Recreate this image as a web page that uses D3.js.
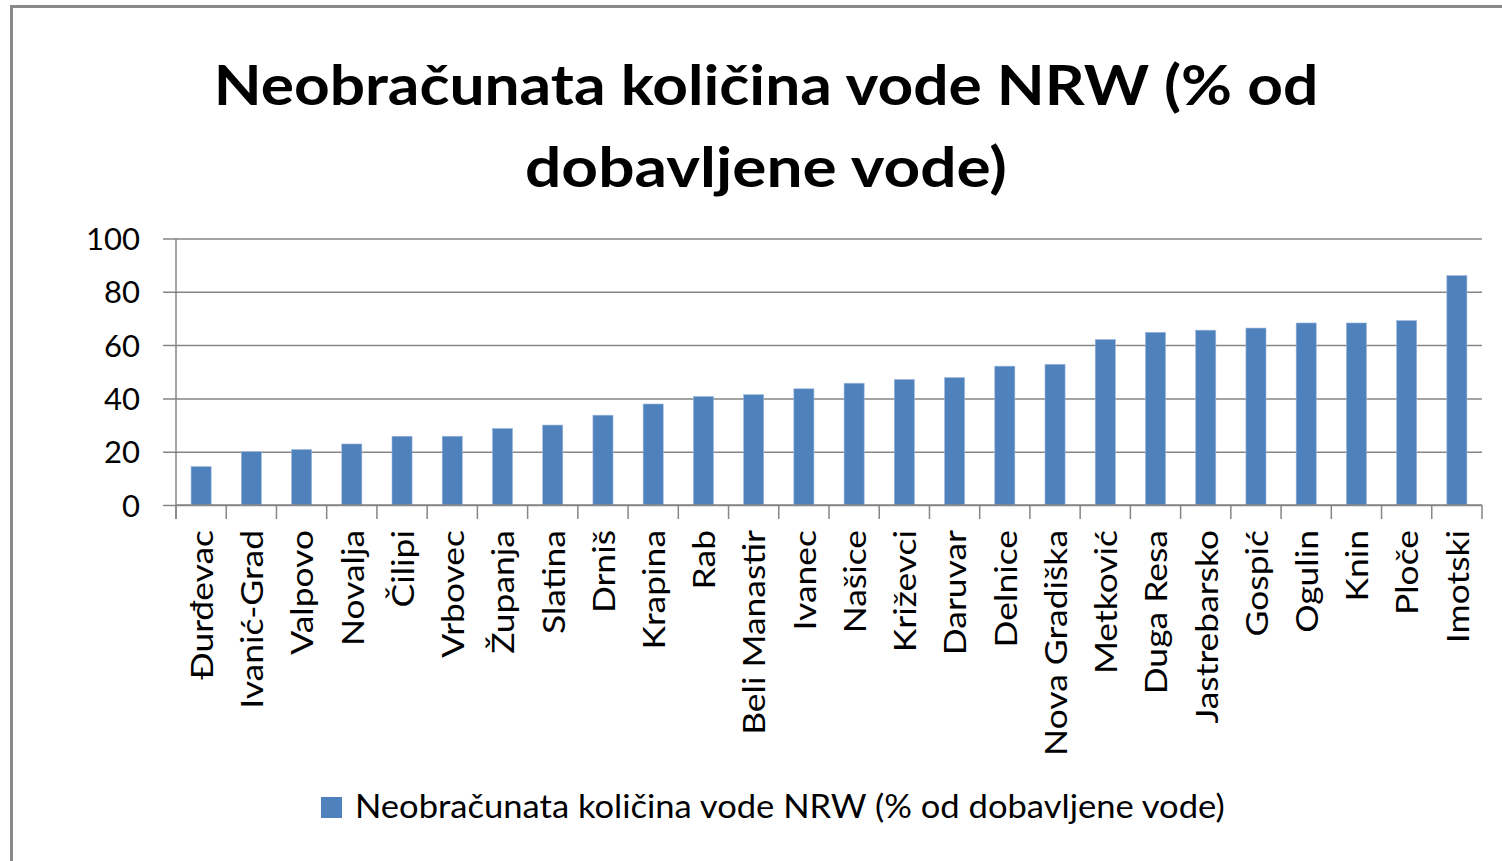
<!DOCTYPE html>
<html>
<head>
<meta charset="utf-8">
<script src="https://cdn.jsdelivr.net/npm/d3@7"></script>
<style>
  html, body { margin: 0; padding: 0; background: #fff; }
  svg { display: block; }
  text { font-family: Lato, "Open Sans", sans-serif; fill: #000; }
</style>
</head>
<body>
<script>
// ---- data ----
const categories = ["Đurđevac","Ivanić-Grad","Valpovo","Novalja","Čilipi","Vrbovec","Županja","Slatina","Drniš","Krapina","Rab","Beli Manastir","Ivanec","Našice","Križevci","Daruvar","Delnice","Nova Gradiška","Metković","Duga Resa","Jastrebarsko","Gospić","Ogulin","Knin","Ploče","Imotski"];
const values = [14.4, 20.0, 20.8, 22.9, 25.8, 25.8, 28.7, 30.0, 33.7, 37.9, 40.7, 41.4, 43.6, 45.7, 47.1, 47.8, 52.1, 52.8, 62.1, 64.8, 65.6, 66.4, 68.3, 68.3, 69.2, 86.1];
const yTicks = [0, 20, 40, 60, 80, 100];
const titleLines = ["Neobračunata količina vode NRW (% od", "dobavljene vode)"];
const legendLabel = "Neobračunata količina vode NRW (% od dobavljene vode)";

// ---- layout ----
const W = 1502, H = 861;
const plotLeft = 176, plotRight = 1482, plotTop = 238.5, plotBottom = 505;
const barColor = "#4F81BD", gridColor = "#868686";

const svg = d3.select("body").append("svg").attr("width", W).attr("height", H);

// outer frame
svg.append("rect").attr("x", 11.5).attr("y", 6.5).attr("width", W + 20).attr("height", H + 20)
  .attr("fill", "#fff").attr("stroke", "#8a8a8a").attr("stroke-width", 3);

function fitX(sel, target) {
  const node = sel.node();
  const len = node.getComputedTextLength();
  const k = target / len;
  const x = +sel.attr("x"), y = +sel.attr("y");
  sel.attr("transform", `translate(${x},${y}) scale(${k},1) translate(${-x},${-y})`);
}

// title
const titleTargets = [1105, 482];
const titleY = [105, 187];
titleLines.forEach((t, i) => {
  const tx = svg.append("text").attr("x", 766).attr("y", titleY[i])
    .attr("text-anchor", "middle").attr("font-weight", "bold").attr("font-size", 56).text(t);
  fitX(tx, titleTargets[i]);
});

// scales
const x = d3.scaleBand().domain(categories).range([plotLeft, plotRight]).paddingInner(0.6).paddingOuter(0.3);
const y = d3.scaleLinear().domain([0, 100]).range([plotBottom, plotTop]);

// y axis with gridlines
const yAxis = d3.axisLeft(y).tickValues(yTicks).tickSize(-(plotRight - 163)).tickPadding(23);
const gy = svg.append("g").attr("transform", "translate(163,0)").call(yAxis);
gy.select(".domain").remove();
gy.selectAll(".tick line").attr("stroke", gridColor).attr("stroke-width", 1.5);
gy.selectAll(".tick text").attr("font-size", 31).attr("fill", "#000")
  .style("font-family", "Lato, 'Open Sans', sans-serif").attr("dy", "0.36em");

// bars
svg.append("g").selectAll("rect").data(categories).join("rect")
  .attr("x", d => x(d))
  .attr("width", x.bandwidth())
  .attr("y", (d, i) => y(values[i]))
  .attr("height", (d, i) => y(0) - y(values[i]))
  .attr("fill", barColor)
  .attr("stroke", "#9db8dc").attr("stroke-width", 0.6);

// vertical axis line
svg.append("line").attr("x1", plotLeft).attr("x2", plotLeft).attr("y1", plotTop).attr("y2", 519)
  .attr("stroke", gridColor).attr("stroke-width", 1.5);
// category axis line at 0
svg.append("line").attr("x1", plotLeft).attr("x2", plotRight).attr("y1", y(0)).attr("y2", y(0))
  .attr("stroke", gridColor).attr("stroke-width", 1.5);
// category boundary ticks
const step = x.step();
const bounds = categories.map((c, i) => plotLeft + i * step).concat([plotRight]);
svg.append("g").selectAll("line").data(bounds).join("line")
  .attr("x1", d => d).attr("x2", d => d).attr("y1", y(0)).attr("y2", 519)
  .attr("stroke", gridColor).attr("stroke-width", 1.5);

// category labels (rotated)
const labG = svg.append("g");
const labs = labG.selectAll("text").data(categories).join("text")
  .attr("font-size", 30)
  .attr("text-anchor", "end")
  .attr("transform", d => `translate(${x(d) + x.bandwidth() / 2 + 1},530) rotate(-90)`)
  .attr("dy", "0.36em")
  .text(d => d);
const refLen = labs.filter(d => d === "Nova Gradiška").node().getComputedTextLength();
const kLab = 226 / refLen;
labs.attr("transform", d => `translate(${x(d) + x.bandwidth() / 2 + 1},530) rotate(-90) scale(${kLab},1)`);

// legend
svg.append("rect").attr("x", 321).attr("y", 797).attr("width", 21).attr("height", 21).attr("fill", barColor);
const lt = svg.append("text").attr("x", 355).attr("y", 818).attr("font-size", 32).text(legendLabel);
fitX(lt, 870);
</script>
</body>
</html>
